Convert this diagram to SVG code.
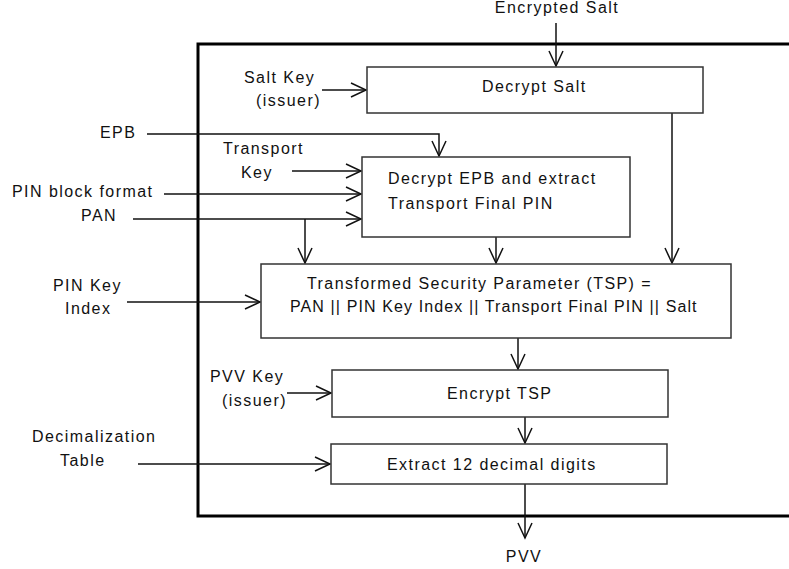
<svg xmlns="http://www.w3.org/2000/svg" width="789" height="569" viewBox="0 0 789 569">
<style>
text{font-family:"Liberation Sans",Arial,sans-serif;font-size:16px;letter-spacing:1.45px;fill:#111}
.box{fill:#fff;stroke:#333;stroke-width:1.5}
.c{fill:none;stroke:#111;stroke-width:1.5}
.frame{fill:none;stroke:#000;stroke-width:3}
.m{text-anchor:middle}
</style>
<defs>
<marker id="arr" markerUnits="userSpaceOnUse" markerWidth="20" markerHeight="20" viewBox="-16 -10 20 20" refX="0" refY="0" orient="auto">
<path d="M-15,-7 L0,0 L-15,7" fill="none" stroke="#111" stroke-width="1.5"/>
</marker>
</defs>
<path class="frame" d="M789,44 H198 V516 H789"/>
<g id="connectors">
<line class="c" x1="556" y1="23" x2="556" y2="66" marker-end="url(#arr)"/>
<line class="c" x1="322" y1="90" x2="366" y2="90" marker-end="url(#arr)"/>
<polyline class="c" points="147,134 439,134 439,156" marker-end="url(#arr)"/>
<line class="c" x1="292" y1="171" x2="361" y2="171" marker-end="url(#arr)"/>
<line class="c" x1="164" y1="194" x2="361" y2="194" marker-end="url(#arr)"/>
<line class="c" x1="133" y1="219" x2="361" y2="219" marker-end="url(#arr)"/>
<line class="c" x1="305" y1="219" x2="305" y2="263" marker-end="url(#arr)"/>
<line class="c" x1="496" y1="237" x2="496" y2="263" marker-end="url(#arr)"/>
<line class="c" x1="672" y1="113" x2="672" y2="263" marker-end="url(#arr)"/>
<line class="c" x1="127" y1="302" x2="260" y2="302" marker-end="url(#arr)"/>
<line class="c" x1="518" y1="338" x2="518" y2="369" marker-end="url(#arr)"/>
<line class="c" x1="287" y1="393" x2="331" y2="393" marker-end="url(#arr)"/>
<line class="c" x1="525" y1="417" x2="525" y2="443" marker-end="url(#arr)"/>
<line class="c" x1="138" y1="464" x2="330" y2="464" marker-end="url(#arr)"/>
<line class="c" x1="525" y1="484" x2="525" y2="538" marker-end="url(#arr)"/>
</g>
<g id="decrypt-salt">
<rect class="box" x="367" y="67" width="336" height="46"/>
<text x="482" y="92">Decrypt Salt</text>
</g>
<g id="decrypt-epb">
<rect class="box" x="362" y="157" width="268" height="80"/>
<text x="388" y="184">Decrypt EPB and extract</text>
<text x="388" y="209">Transport Final PIN</text>
</g>
<g id="tsp">
<rect class="box" x="261" y="264" width="470" height="74"/>
<text x="307" y="289" textLength="345" lengthAdjust="spacing">Transformed Security Parameter (TSP) =</text>
<text x="290" y="312" textLength="408" lengthAdjust="spacing">PAN || PIN Key Index || Transport Final PIN || Salt</text>
</g>
<g id="encrypt-tsp">
<rect class="box" x="332" y="370" width="336" height="47"/>
<text x="447" y="399">Encrypt TSP</text>
</g>
<g id="extract">
<rect class="box" x="331" y="444" width="336" height="40"/>
<text x="387" y="470">Extract 12 decimal digits</text>
</g>
<g id="labels">
<text class="m" x="557" y="13">Encrypted Salt</text>
<text x="244" y="83">Salt Key</text>
<text x="256" y="106">(issuer)</text>
<text x="100" y="138">EPB</text>
<text x="223" y="154">Transport</text>
<text x="241" y="178">Key</text>
<text x="12" y="197">PIN block format</text>
<text x="81" y="221">PAN</text>
<text x="53" y="291">PIN Key</text>
<text x="65" y="314">Index</text>
<text x="210" y="382">PVV Key</text>
<text x="222" y="406">(issuer)</text>
<text x="32" y="442">Decimalization</text>
<text x="60" y="466">Table</text>
<text class="m" x="524" y="562">PVV</text>
</g>
</svg>
